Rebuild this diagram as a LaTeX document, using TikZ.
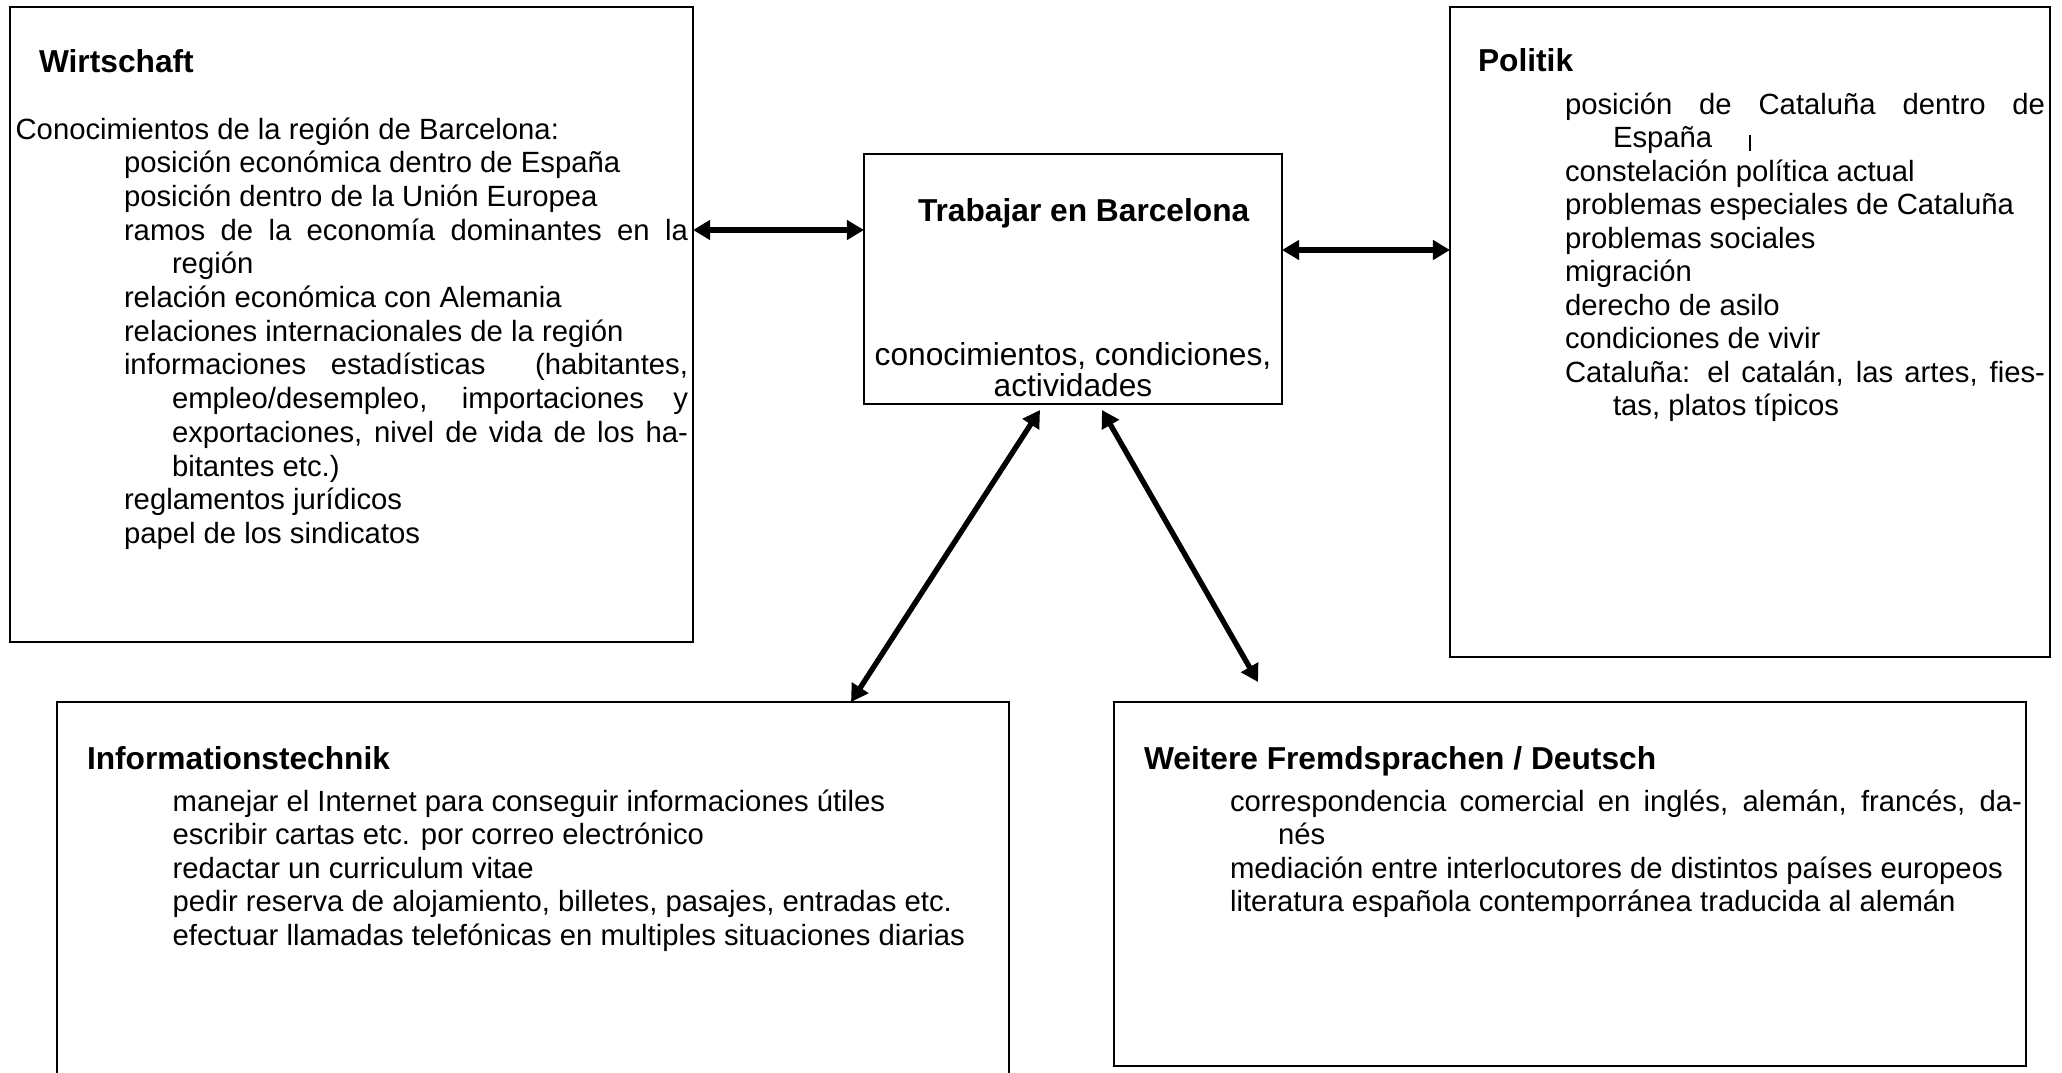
\documentclass[tikz,border=0pt]{standalone}
\usepackage{fontspec}
\setmainfont{Liberation Sans}
\usetikzlibrary{arrows.meta}
\newcommand\bodyfnt{\fontsize{12}{14}\selectfont}
\newcommand\bigfnt{\fontsize{13}{15}\selectfont}
\newcommand\ttlfnt{\fontsize{13}{15}\selectfont\bfseries}
\newcommand\jl[2]{\makebox[#1][s]{#2}}
\begin{document}
\begin{tikzpicture}[x=0.41pt,y=-0.41pt,
  box/.style={draw, line width=0.75pt, inner sep=0pt, outer sep=0pt, rectangle},
  txt/.style={anchor=base west, inner sep=0pt, outer sep=0pt, font=\bodyfnt},
  ctxt/.style={anchor=base, inner sep=0pt, outer sep=0pt, font=\bigfnt},
  ttl/.style={anchor=base west, inner sep=0pt, outer sep=0pt, font=\ttlfnt},
  arr/.style={{Triangle[length=7pt,width=7.8pt]}-{Triangle[length=7pt,width=7.8pt]}, line width=2.2pt}]
\useasboundingbox (0,0) rectangle (2062,1073);
\clip (0,0) rectangle (2062,1073);
\fill[white] (0,0) rectangle (2062,1073);

% boxes
\node[box, minimum width=280.03pt, minimum height=260.35pt] (W) at (351.5,324.5) {};
\node[box, minimum width=171.38pt, minimum height=102.5pt] (C) at (1073,279) {};
\node[box, minimum width=246pt, minimum height=266.5pt] (P) at (1750,332) {};
\node[box, minimum width=390.32pt, minimum height=163.18pt] (I) at (533,901) {};
\node[box, minimum width=373.92pt, minimum height=149.24pt] (F) at (1570,884) {};

% Wirtschaft
\node[ttl] (wt) at (39,72.5) {Wirtschaft};
\node[txt] (w1) at (15.6,139) {Conocimientos de la región de Barcelona:};
\node[txt] (w2) at (124,172.7) {posición económica dentro de España};
\node[txt] (w3) at (124,206.4) {posición dentro de la Unión Europea};
\node[txt] (w4) at (124,240.1) {\jl{231.24pt}{ramos de la economía dominantes en la}};
\node[txt] (w5) at (172,273.8) {región};
\node[txt] (w6) at (124,307.5) {relación económica con Alemania};
\node[txt] (w7) at (124,341.2) {relaciones internacionales de la región};
\node[txt] (w8) at (124,374.9) {\jl{231.24pt}{informaciones estadísticas\ \ (habitantes,}};
\node[txt] (w9) at (172,408.6) {\jl{211.56pt}{empleo/desempleo, importaciones y}};
\node[txt] (w10) at (172,442.3) {\jl{211.56pt}{exportaciones, nivel de vida de los ha-}};
\node[txt] (w11) at (172,476) {bitantes etc.)};
\node[txt] (w12) at (124,509.7) {reglamentos jurídicos};
\node[txt] (w13) at (124,543.4) {papel de los sindicatos};

% Center
\node[ttl] (ct) at (918,221) {Trabajar en Barcelona};
\node[ctxt] (c1) at (1073,365) {conocimientos, condiciones,};
\node[ctxt] (c2) at (1073,396.5) {actividades};

% Politik
\node[ttl] (pt) at (1478,72) {Politik};
\node[txt] (p1) at (1565,114) {\jl{196.8pt}{posición de Cataluña dentro de}};
\node[txt] (p2) at (1613,147.5) {España};
\draw[line width=0.8pt] (1750,135) -- (1750,151);
\node[txt] (p3) at (1565,181) {constelación política actual};
\node[txt] (p4) at (1565,214.5) {problemas especiales de Cataluña};
\node[txt] (p5) at (1565,248) {problemas sociales};
\node[txt] (p6) at (1565,281.5) {migración};
\node[txt] (p7) at (1565,315) {derecho de asilo};
\node[txt] (p8) at (1565,348.5) {condiciones de vivir};
\node[txt] (p9) at (1565,382) {\jl{196.8pt}{Cataluña: el catalán, las artes, fies-}};
\node[txt] (p10) at (1613,415.5) {tas, platos típicos};

% Informationstechnik
\node[ttl] (it) at (87,769) {Informationstechnik};
\node[txt] (i1) at (172.7,811) {manejar el Internet para conseguir informaciones útiles};
\node[txt] (i2) at (172.7,844.5) {escribir cartas etc. por correo electrónico};
\node[txt] (i3) at (172.7,878) {redactar un curriculum vitae};
\node[txt] (i4) at (172.7,911.5) {pedir reserva de alojamiento, billetes, pasajes, entradas etc.};
\node[txt] (i5) at (172.7,945) {efectuar llamadas telefónicas en multiples situaciones diarias};

% Weitere Fremdsprachen
\node[ttl] (ft) at (1144,769) {Weitere Fremdsprachen / Deutsch};
\node[txt] (f1) at (1230,811) {\jl{324.72pt}{correspondencia comercial en inglés, alemán, francés, da-}};
\node[txt] (f2) at (1278,844.5) {nés};
\node[txt] (f3) at (1230,878) {mediación entre interlocutores de distintos países europeos};
\node[txt] (f4) at (1230,911.5) {literatura española contemporránea traducida al alemán};

% connectors
\draw[arr] (W.east |- 0,230) -- (C.west |- 0,230);
\draw[arr] (C.east |- 0,250) -- (P.west |- 0,250);
\path (C.south -| 1040,0) ++(0,6) coordinate (d1);
\path (C.south -| 1102,0) ++(0,6) coordinate (d2);
\path (F.north -| 1258,0) ++(0,-20) coordinate (d3);
\draw[arr] (d1) -- (I.north -| 851,0);
\draw[arr] (d2) -- (d3);
\end{tikzpicture}
\end{document}
